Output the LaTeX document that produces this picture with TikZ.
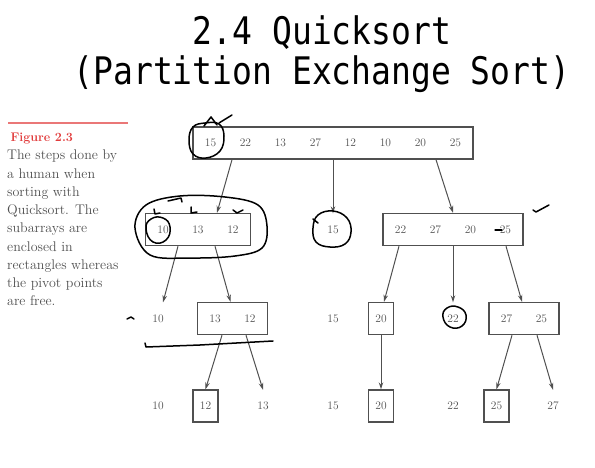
\documentclass[tikz,border=0pt]{standalone}
\usepackage{fontspec}
\setmonofont{DejaVu Sans Mono}
\usetikzlibrary{arrows.meta,positioning,calc}
\definecolor{ink}{RGB}{80,80,80}
\definecolor{figred}{RGB}{225,60,60}
\newcommand{\cell}[1]{\makebox[35pt]{#1}}

\begin{document}
\begin{tikzpicture}[x=1pt, y=-1pt,
  every node/.style={font=\fontsize{11.5}{13}\selectfont, text=ink},
  arraybox/.style={draw=ink, line width=1.4pt, inner xsep=0pt, inner ysep=0pt,
               minimum height=32pt},
  onebox/.style={draw=ink, line width=1.4pt, inner sep=0pt,
               minimum width=25pt, minimum height=32pt},
  free/.style={inner sep=0pt, minimum height=32pt},
  arr/.style={-{Stealth[length=7pt,width=4.5pt]}, draw=ink, line width=1pt},
  pen/.style={draw=black, line width=1.5pt, line cap=round, line join=round},
  titletext/.style={font=\ttfamily\fontsize{33}{40}\selectfont, text=black, anchor=base}
]
\useasboundingbox (0,0) rectangle (595,468);

% title
\node[titletext] (title1) at (322,45) {\scalebox{1}[1.15]{2.4 Quicksort}};
\node[titletext] (title2) at (322,85) {\scalebox{1}[1.15]{(Partition Exchange Sort)}};

% caption
\draw[figred!70, line width=1.2pt] (8,123) -- (128,123);
\node[anchor=base west, text=figred, font=\bfseries\fontsize{12.5}{14}\selectfont]
  (figlabel) at (7,142) {Figure 2.3};
\node[anchor=north west, align=left, inner sep=0pt,
  font=\fontsize{14}{18.25}\selectfont] (caption) at (7,150)
  {The steps done by\\a human when\\sorting with\\Quicksort. The\\subarrays are\\
   enclosed in\\rectangles whereas\\the pivot points\\are free.};

% level 0
\node[arraybox] (r0) at (333,143)
  {\cell{15}\cell{22}\cell{13}\cell{27}\cell{12}\cell{10}\cell{20}\cell{25}};

% level 1
\node[arraybox] (l1) at (198,229.5) {\cell{10}\cell{13}\cell{12}};
\node[free] (p1) at (333,229.5) {15};
\node[arraybox] (r1) at (453,229.5) {\cell{22}\cell{27}\cell{20}\cell{25}};

% level 2
\node[free] (a10) at (158,318.5) {10};
\node[arraybox] (l2) at (232.5,318.5) {\cell{13}\cell{12}};
\node[free] (a15) at (333,318.5) {15};
\node[onebox] (b20) at (381,318.5) {20};
\node[free] (p22) at (453,318.5) {22};
\node[arraybox] (r2) at (524,318.5) {\cell{27}\cell{25}};

% level 3
\node[free] (c10) at (158,406) {10};
\node[onebox] (c12) at (205.5,406) {12};
\node[free] (c13) at (263,406) {13};
\node[free] (c15) at (333,406) {15};
\node[onebox] (d20) at (381,406) {20};
\node[free] (d22) at (453,406) {22};
\node[onebox] (d25) at (496.5,406) {25};
\node[free] (d27) at (553,406) {27};

% arrows
\draw[arr] ([xshift=-101pt]r0.south) -- ([xshift=19pt]l1.north);
\draw[arr] (r0.south) -- (p1.north);
\draw[arr] ([xshift=103pt]r0.south) -- (r1.north);
\draw[arr] ([xshift=-20pt]l1.south) -- ([xshift=5pt]a10.north);
\draw[arr] ([xshift=17pt]l1.south) -- ([xshift=-2pt]l2.north);
\draw[arr] ([xshift=-54pt]r1.south) -- ([xshift=3pt]b20.north);
\draw[arr] (r1.south) -- (p22.north);
\draw[arr] ([xshift=53pt]r1.south) -- ([xshift=-2pt]r2.north);
\draw[arr] ([xshift=-10.5pt]l2.south) -- (c12.north);
\draw[arr] ([xshift=13.5pt]l2.south) -- (c13.north);
\draw[arr] (b20.south) -- (d20.north);
\draw[arr] ([xshift=-12pt]r2.south) -- (d25.north);
\draw[arr] ([xshift=13pt]r2.south) -- (d27.north);

% hand marks
\draw[pen] plot[smooth cycle, tension=0.7] coordinates
  {(189,140) (193,127) (205,123) (219,124) (224,136) (220,151) (206,158) (193,154)};
\draw[pen] (204,126) -- (211,117) -- (217,125);
\draw[pen] (219,123) -- (232,115);
\draw[pen] plot[smooth cycle, tension=0.6] coordinates
  {(135,228) (146,205) (180,196) (225,197) (258,205) (267,226) (262,248)
   (235,256) (190,258) (150,255)};
\draw[pen] plot[smooth cycle, tension=0.8] coordinates
  {(146,229) (151,219) (163,218) (170,227) (166,240) (153,242)};
\draw[pen] (154,209) -- (155,214) -- (160,213);
\draw[pen] (191,207) -- (191,213) -- (197,212);
\draw[pen] (233,210) -- (237,213) -- (243,210);
\draw[pen] (168,201) -- (181,198) -- (182,202);
\draw[pen] plot[smooth cycle, tension=0.7] coordinates
  {(313,228) (318,215) (333,211) (347,218) (351,232) (345,244) (330,247) (316,242)};
\draw[pen] (313,219) -- (318,223);
\draw[pen] (533,210) -- (536,212) -- (549,205);
\draw[pen, line width=1.1pt] (495,230) -- (502,230);
\draw[pen] plot[smooth cycle, tension=0.8] coordinates
  {(443,317) (447,308) (458,307) (466,315) (462,326) (450,327)};
\draw[pen] (127,319) -- (131,317) -- (134,319);
\draw[pen] (145,343) -- (146,347) -- (200,345) -- (273,341);
\end{tikzpicture}
\end{document}
